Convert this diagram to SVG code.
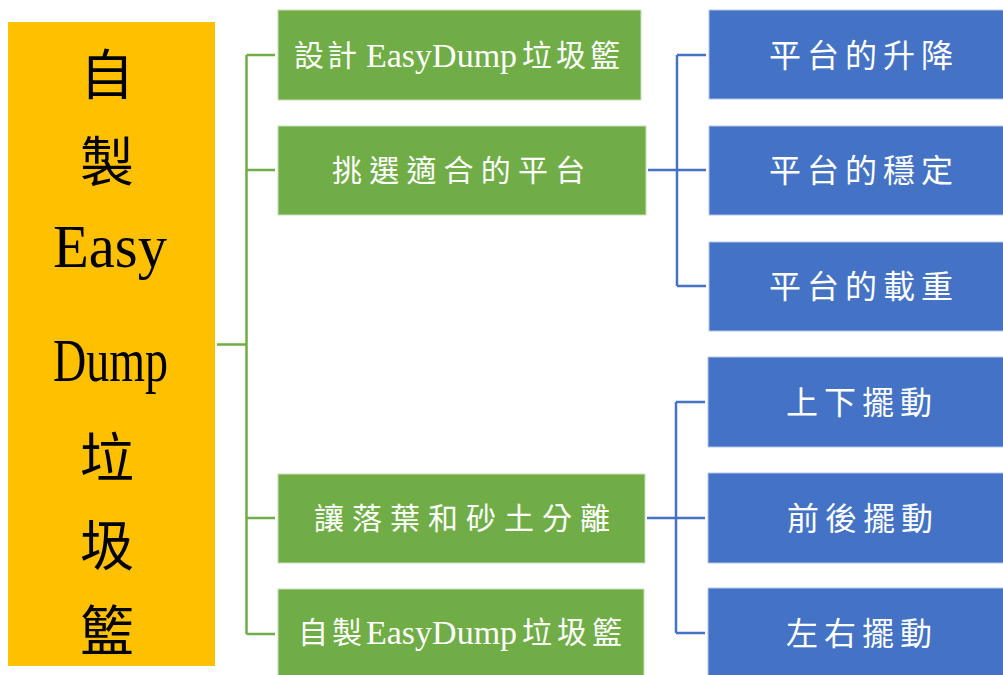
<svg xmlns="http://www.w3.org/2000/svg" width="1003" height="675" viewBox="0 0 1003 675">
<style>
.root{fill:#FFC000}
.g{fill:#70AD47;stroke:#C9DFBB;stroke-width:1}
.b{fill:#4472C4;stroke:#B4C7E7;stroke-width:1}
.cjk{font-family:"Noto Sans CJK TC","Noto Sans CJK SC",sans-serif}
.lat{font-family:"Liberation Serif",serif}
.w{fill:#FFFFFF}
.k{fill:#000000}
.cg{fill:none;stroke:#70AD47;stroke-width:2.5}
.cb{fill:none;stroke:#4472C4;stroke-width:2.5}
</style>
<rect width="1003" height="675" fill="#FFFFFF"/>
<g id="connectors">
<path class="cg" d="M217 344.5H246.5M246.5 55V634M246.5 55H275M246.5 170H275M246.5 518H275M246.5 634H275"/>
<path class="cb" d="M648 170H677M677 55V286M677 55H706M677 170H706M677 286H706"/>
<path class="cb" d="M647 518H676M676 402V633M676 402H705M676 518H705M676 633H705"/>
</g>
<g id="root">
<rect class="root" x="8" y="22" width="207" height="644"/>
<text class="cjk k" x="107" y="95" font-size="54" text-anchor="middle">自</text>
<text class="cjk k" x="107" y="182" font-size="54" text-anchor="middle">製</text>
<text class="lat k" x="53" y="267" font-size="62" textLength="114" lengthAdjust="spacingAndGlyphs">Easy</text>
<text class="lat k" x="53" y="381" font-size="62" textLength="115" lengthAdjust="spacingAndGlyphs">Dump</text>
<text class="cjk k" x="107" y="478" font-size="54" text-anchor="middle">垃</text>
<text class="cjk k" x="107" y="566" font-size="54" text-anchor="middle">圾</text>
<text class="cjk k" x="107" y="651" font-size="54" text-anchor="middle">籃</text>
</g>
<g id="design">
<rect class="g" x="278" y="10" width="363" height="90"/>
<text class="cjk w" x="294" y="66" font-size="30" letter-spacing="3">設計</text>
<text class="lat w" x="366" y="67" font-size="34">EasyDump</text>
<text class="cjk w" x="522" y="66" font-size="30" letter-spacing="4">垃圾籃</text>
</g>
<g id="platform">
<rect class="g" x="278" y="126" width="368" height="89"/>
<text class="cjk w" x="332" y="181" font-size="30" letter-spacing="7.2">挑選適合的平台</text>
</g>
<g id="separate">
<rect class="g" x="278" y="474" width="367" height="89"/>
<text class="cjk w" x="314" y="529" font-size="30" letter-spacing="8">讓落葉和砂土分離</text>
</g>
<g id="make">
<rect class="g" x="278" y="589" width="366" height="90"/>
<text class="cjk w" x="298" y="643" font-size="30" letter-spacing="4">自製</text>
<text class="lat w" x="366" y="644" font-size="34">EasyDump</text>
<text class="cjk w" x="522" y="643" font-size="30" letter-spacing="5">垃圾籃</text>
</g>
<g id="lift">
<rect class="b" x="709" y="10" width="296" height="89"/>
<text class="cjk w" x="769" y="67" font-size="32" letter-spacing="6">平台的升降</text>
</g>
<g id="stable">
<rect class="b" x="709" y="126" width="296" height="89"/>
<text class="cjk w" x="769" y="182" font-size="32" letter-spacing="6">平台的穩定</text>
</g>
<g id="load">
<rect class="b" x="709" y="242" width="296" height="89"/>
<text class="cjk w" x="769" y="298" font-size="32" letter-spacing="6">平台的載重</text>
</g>
<g id="updown">
<rect class="b" x="708" y="357" width="297" height="90"/>
<text class="cjk w" x="786" y="414" font-size="32" letter-spacing="6">上下擺動</text>
</g>
<g id="frontback">
<rect class="b" x="708" y="473" width="297" height="90"/>
<text class="cjk w" x="787" y="530" font-size="32" letter-spacing="6">前後擺動</text>
</g>
<g id="leftright">
<rect class="b" x="708" y="588" width="297" height="90"/>
<text class="cjk w" x="786" y="645" font-size="32" letter-spacing="6">左右擺動</text>
</g>
</svg>
